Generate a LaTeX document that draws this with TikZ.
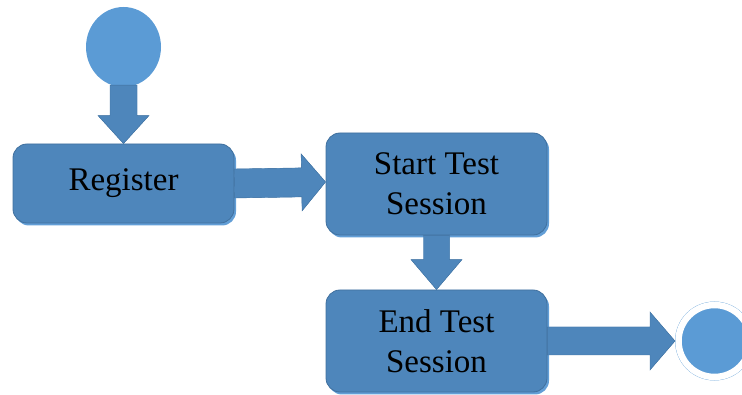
\documentclass[tikz,border=0pt]{standalone}
\usepackage{fontspec}
\setmainfont{Liberation Serif}
\usetikzlibrary{calc,shapes.geometric}

\definecolor{boxblue}{RGB}{78,134,187}
\definecolor{boxedge}{RGB}{64,112,158}
\definecolor{dotblue}{RGB}{91,155,213}
\definecolor{shadeblue}{RGB}{98,158,214}

\tikzset{
  x=1pt, y=-1pt,
  activity/.style={rectangle, rounded corners=14pt, fill=boxblue, draw=boxedge,
    line width=0.8pt, align=center, inner sep=0pt,
    font=\fontsize{33}{40}\selectfont},
  boxshadow/.style={rectangle, rounded corners=14pt, fill=shadeblue, draw=none},
  initdot/.style={ellipse, fill=dotblue, draw=none, inner sep=0pt},
  finaldot/.style={circle, fill=dotblue, draw=white, line width=6.5pt,
    minimum size=72pt, inner sep=0pt},
  finalring/.style={circle, draw=dotblue, line width=1pt, minimum size=78pt, inner sep=0pt},
  arrowbody/.style={fill=boxblue, draw=boxedge, line width=0.4pt},
  arrowshade/.style={fill=shadeblue, draw=none},
}

% block arrow from #1 to #2: shaft half width #3, head half width #4, head length #5 (all in pt)
\newcommand\blockarrow[5]{%
  \coordinate (ba-s) at (#1);
  \coordinate (ba-e) at (#2);
  \coordinate (ba-h) at ($(ba-e)!#5pt!(ba-s)$);
  \coordinate (ba-1) at ($(ba-s)!#3pt!90:(ba-e)$);
  \coordinate (ba-2) at ($(ba-h)!#3pt!-90:(ba-s)$);
  \coordinate (ba-3) at ($(ba-h)!#4pt!-90:(ba-s)$);
  \coordinate (ba-4) at ($(ba-h)!#4pt!90:(ba-s)$);
  \coordinate (ba-5) at ($(ba-h)!#3pt!90:(ba-s)$);
  \coordinate (ba-6) at ($(ba-s)!#3pt!-90:(ba-e)$);
  \fill[arrowshade, shift={(1.6,2)}] (ba-1) -- (ba-2) -- (ba-3) -- (ba-e) -- (ba-4) -- (ba-5) -- (ba-6) -- cycle;
  \filldraw[arrowbody] (ba-1) -- (ba-2) -- (ba-3) -- (ba-e) -- (ba-4) -- (ba-5) -- (ba-6) -- cycle;}

\begin{document}
\begin{tikzpicture}
\useasboundingbox (0,0) rectangle (742,395);
\clip (0,0) rectangle (742,395);

% shadows of the activity boxes
\node[boxshadow, minimum width=221pt, minimum height=79pt] at (125.5,186) {};
\node[boxshadow, minimum width=221pt, minimum height=102pt] at (438.5,186.5) {};
\node[boxshadow, minimum width=221pt, minimum height=102pt] at (438.5,343.5) {};

% activities
\node[activity, minimum width=221pt, minimum height=79pt] (reg) at (123.5,183.5) {Register};
\node[activity, minimum width=221pt, minimum height=102pt] (start) at (436.5,184) {Start Test\\Session};
\node[activity, minimum width=221pt, minimum height=102pt] (stop) at (436.5,341) {End Test\\Session};

% initial and final states
\node[initdot, minimum width=75pt, minimum height=80pt] (init) at (123.5,47) {};
\node[finalring] (final) at (714.5,341) {};
\node[finaldot] (finalin) at (714.5,341) {};

% transitions
\coordinate (a1s) at ($(init.south)+(0,-2)$);
\coordinate (a2e) at ($(start.west)+(0,-2)$);
\blockarrow{a1s}{reg.north}{13.5}{25.5}{28}
\blockarrow{reg.east}{a2e}{14.5}{28.5}{24}
\blockarrow{start.south}{stop.north}{13}{25.5}{30}
\blockarrow{stop.east}{final.west}{14}{29}{25}
\end{tikzpicture}
\end{document}
